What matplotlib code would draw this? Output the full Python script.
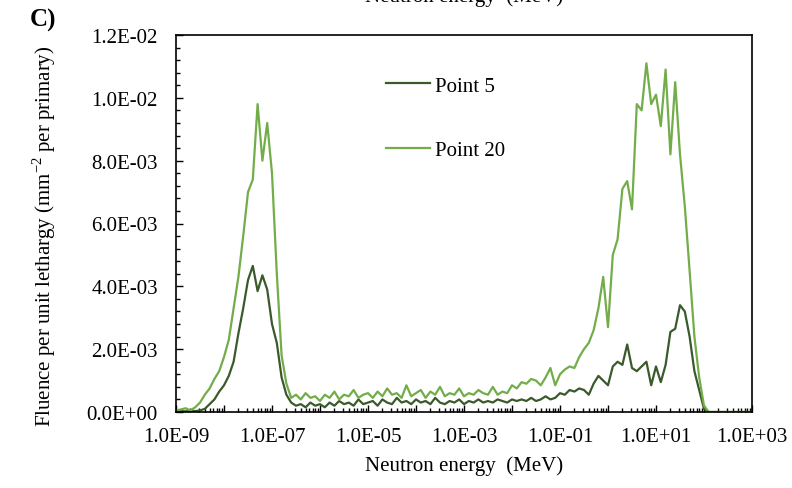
import numpy as np
import matplotlib
matplotlib.use("Agg")
import matplotlib.pyplot as plt
from matplotlib.ticker import FixedLocator, FuncFormatter, MultipleLocator, LogLocator

plt.rcParams['font.family'] = ['Liberation Serif', 'DejaVu Serif']
plt.rcParams['mathtext.fontset'] = 'custom'
plt.rcParams['mathtext.rm'] = 'Liberation Serif'

# energy bins: 10 per decade, 1e-9 .. 1e3 MeV
energy = np.logspace(-9, 3, 121)

# fluence per unit lethargy, in units of 1e-3
point5 = [
    0.02, 0.03, 0.02, 0.04, 0.03, 0.05, 0.10, 0.25, 0.40, 0.65,   # -9.0 .. -8.1
    0.85, 1.15, 1.60, 2.50, 3.30, 4.20, 4.65, 3.85, 4.35, 3.90,   # -8.0 .. -7.1
    2.80, 2.20, 1.10, 0.55, 0.30, 0.20, 0.25, 0.15, 0.30, 0.20,   # -7.0 .. -6.1
    0.25, 0.15, 0.30, 0.20, 0.35, 0.25, 0.30, 0.20, 0.40, 0.25,   # -6.0 .. -5.1
    0.30, 0.35, 0.20, 0.40, 0.30, 0.25, 0.45, 0.30, 0.35, 0.25,   # -5.0 .. -4.1
    0.40, 0.30, 0.35, 0.25, 0.45, 0.30, 0.25, 0.35, 0.30, 0.40,   # -4.0 .. -3.1
    0.25, 0.35, 0.30, 0.40, 0.30, 0.35, 0.30, 0.40, 0.35, 0.30,   # -3.0 .. -2.1
    0.40, 0.35, 0.40, 0.35, 0.45, 0.35, 0.40, 0.50, 0.40, 0.45,   # -2.0 .. -1.1
    0.60, 0.55, 0.70, 0.65, 0.75, 0.70, 0.55, 0.90, 1.15, 1.00,   # -1.0 .. -0.1
    0.85, 1.45, 1.60, 1.50, 2.15, 1.40, 1.30, 1.45, 1.60, 0.85,   #  0.0 .. 0.9
    1.45, 0.95, 1.50, 2.55, 2.65, 3.40, 3.20, 2.40, 1.30, 0.70,   #  1.0 .. 1.9
    0.10, 0.00, 0.00, 0.00, 0.00, 0.00, 0.00, 0.00, 0.00, 0.00,   #  2.0 .. 2.9
    0.00,                                                         #  3.0
]
point20 = [
    0.05, 0.08, 0.12, 0.05, 0.15, 0.30, 0.55, 0.75, 1.05, 1.30,
    1.75, 2.30, 3.30, 4.30, 5.60, 7.00, 7.40, 9.80, 8.00, 9.20,
    7.60, 4.40, 1.80, 0.90, 0.45, 0.55, 0.40, 0.60, 0.45, 0.50,
    0.35, 0.55, 0.45, 0.65, 0.40, 0.55, 0.50, 0.70, 0.45, 0.55,
    0.60, 0.45, 0.65, 0.50, 0.75, 0.55, 0.60, 0.45, 0.85, 0.50,
    0.60, 0.70, 0.45, 0.65, 0.55, 0.80, 0.50, 0.60, 0.55, 0.75,
    0.50, 0.60, 0.55, 0.70, 0.60, 0.55, 0.80, 0.55, 0.65, 0.60,
    0.85, 0.75, 0.95, 0.90, 1.05, 1.00, 0.85, 1.10, 1.40, 0.85,
    1.20, 1.35, 1.45, 1.40, 1.75, 2.00, 2.20, 2.60, 3.30, 4.30,
    2.70, 5.00, 5.50, 7.10, 7.35, 6.45, 9.80, 9.60, 11.10, 9.80,
    10.10, 9.10, 10.90, 8.20, 10.50, 8.20, 6.55, 4.50, 2.40, 1.10,
    0.20, 0.00, 0.00, 0.00, 0.00, 0.00, 0.00, 0.00, 0.00, 0.00,
    0.00,
]

labels = ['Point 5', 'Point 20']
colors = ['#3b5a2c', '#72ad4a']
fs = 15

fig = plt.figure(figsize=(7.92, 4.89), dpi=100)
ax = fig.add_axes([176/792, 1 - 413/489, (752 - 176)/792, (413 - 36)/489])

ax.plot(energy, np.array(point5) * 1e-3, color=colors[0], lw=1.6, label=labels[0])
ax.plot(energy, np.array(point20) * 1e-3, color=colors[1], lw=1.6, label=labels[1])

ax.set_xscale('log')
ax.set_xlim(1e-9, 1e3)
ax.set_ylim(0, 0.012)

# axes styling like the Excel original
ax.xaxis.set_major_locator(FixedLocator(10.0 ** np.arange(-9, 4)))
ax.xaxis.set_minor_locator(LogLocator(base=10, subs=np.arange(2, 10), numticks=50))
ax.xaxis.set_major_formatter(FuncFormatter(
    lambda v, p: '{:.1E}'.format(v) if round(np.log10(v)) % 2 == 1 else ''))
ax.xaxis.set_minor_formatter(FuncFormatter(lambda v, p: ''))
ax.yaxis.set_major_locator(MultipleLocator(0.002))
ax.yaxis.set_minor_locator(MultipleLocator(0.0004))
ax.yaxis.set_major_formatter(FuncFormatter(lambda v, p: '{:.1E}'.format(v)))

ax.tick_params(which='both', direction='in', top=False, right=False,
               labelsize=fs, colors='black')
ax.tick_params(which='major', length=5, width=1)
ax.tick_params(which='minor', length=3, width=1)
ax.tick_params(axis='y', pad=13)
ax.tick_params(axis='x', pad=11)
for s in ax.spines.values():
    s.set_linewidth(1.2)

ax.set_xlabel('Neutron energy  (MeV)', fontsize=fs)
ax.xaxis.set_label_coords(0.5, -0.115)
ax.set_ylabel(r'Fluence per unit lethargy (mm$^{\mathregular{-2}}$ per primary)', fontsize=fs)
ax.yaxis.set_label_coords(-0.205, 0.47)

ax.legend(frameon=False, loc='upper left', bbox_to_anchor=(386/792, 1 - 77/489),
          bbox_transform=fig.transFigure, borderpad=0, borderaxespad=0,
          handlelength=2.1, handletextpad=0.25, labelspacing=2.15, fontsize=fs)

fig.text(30/792, 1 - 20/489, 'C)', fontsize=18, fontweight='bold', ha='left', va='center')
fig.text(464/792, 1.005, 'Neutron energy  (MeV)', fontsize=fs, ha='center', va='center')

fig.savefig('out.png', dpi=100)
